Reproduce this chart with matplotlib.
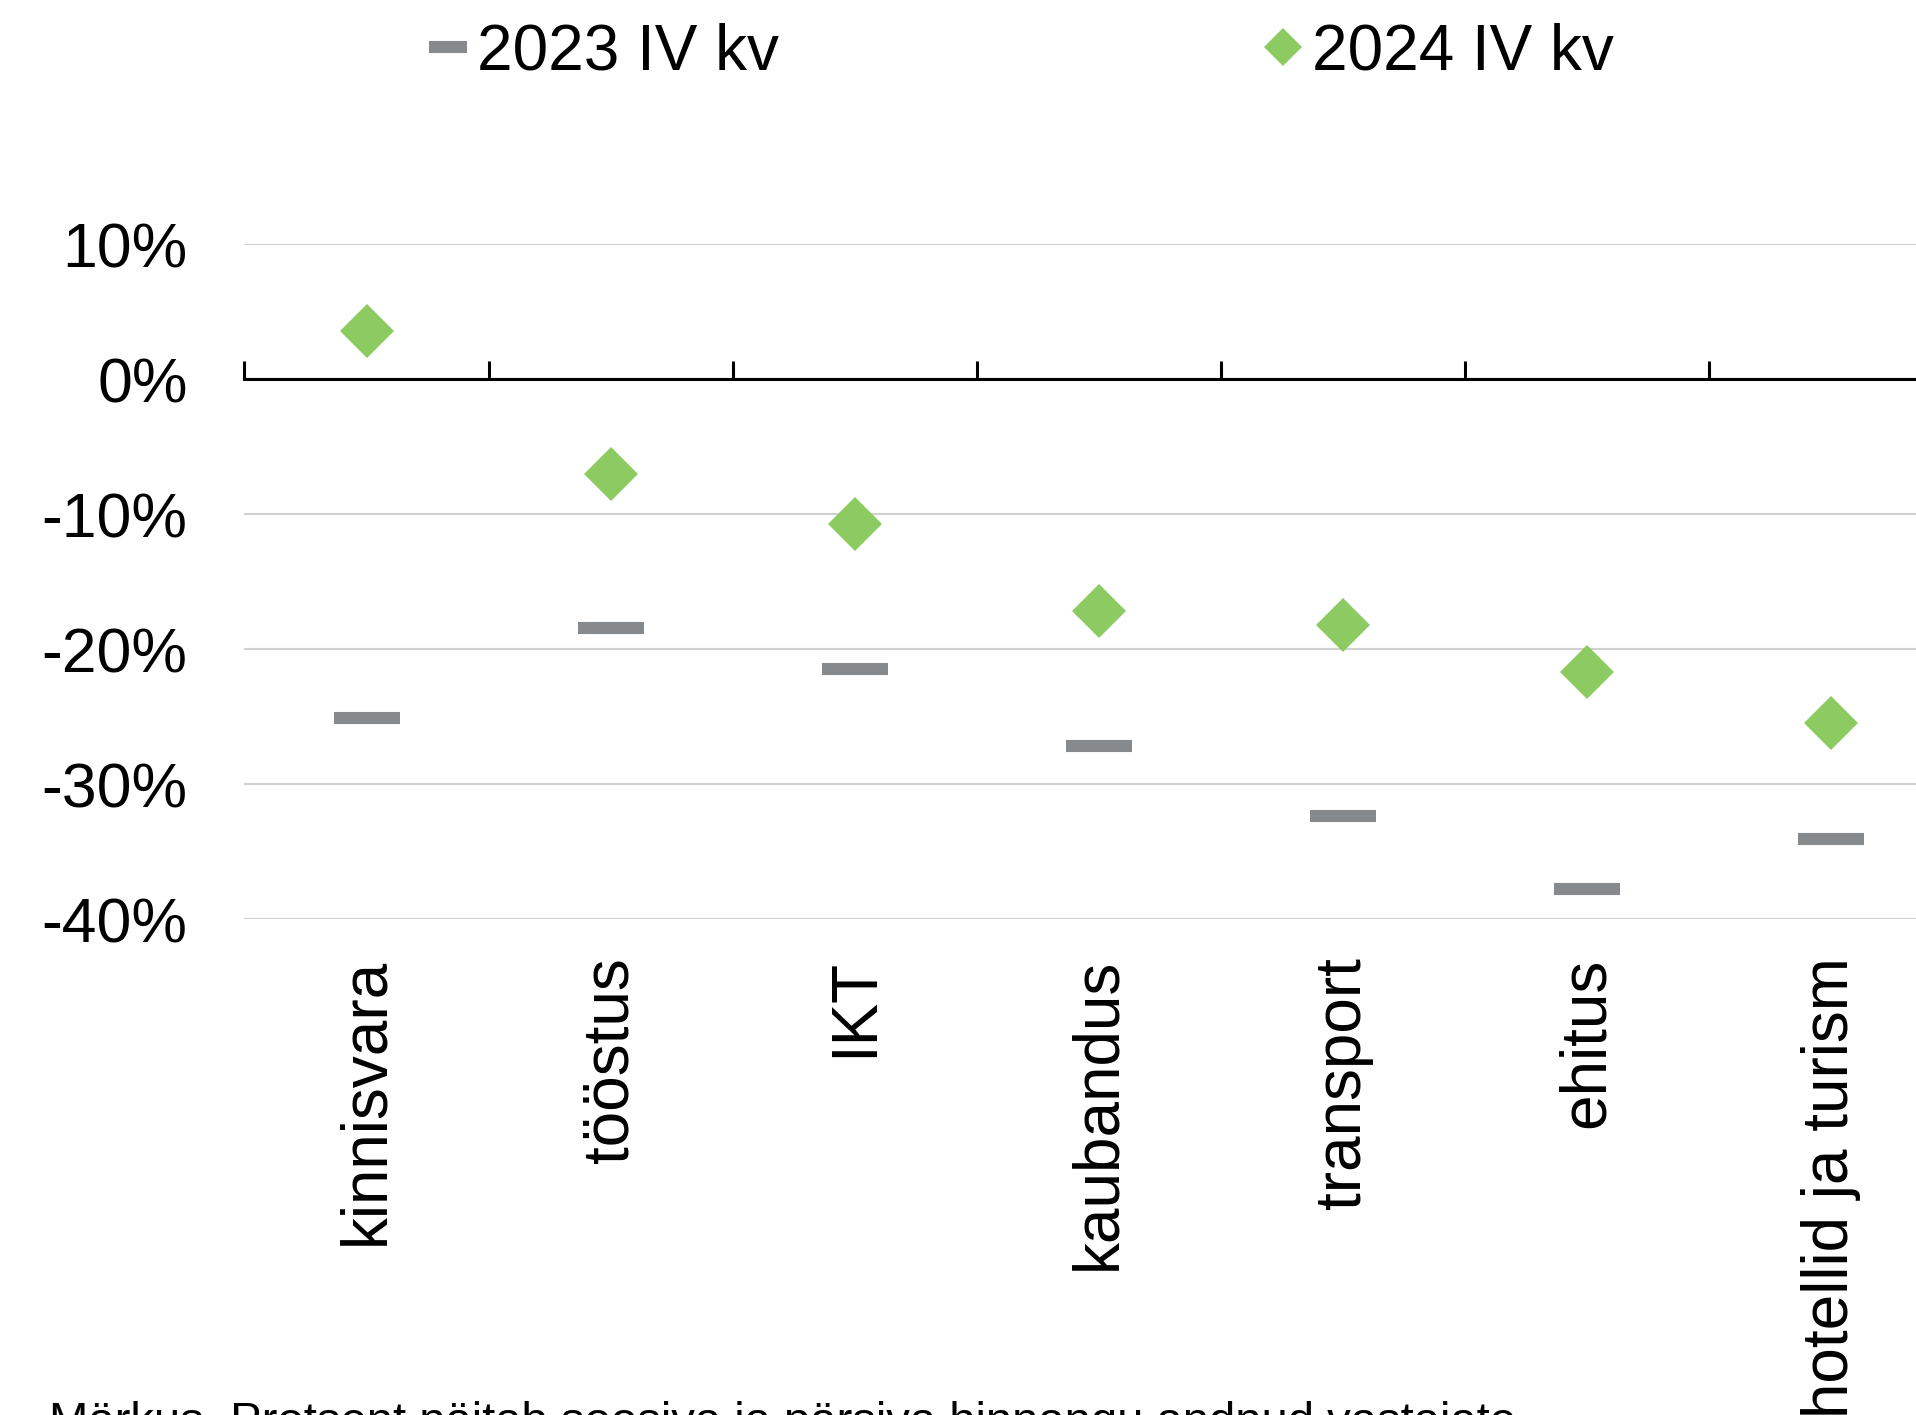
import matplotlib.pyplot as plt
import matplotlib.transforms as mtransforms
from matplotlib.lines import Line2D
from matplotlib.ticker import FixedLocator, FuncFormatter

plt.rcParams['font.family'] = ['Liberation Sans', 'DejaVu Sans']

sektorid = ['kinnisvara', 'tööstus', 'IKT', 'kaubandus', 'transport', 'ehitus', 'hotellid ja turism']
kv_2023 = [-25.1, -18.4, -21.5, -27.2, -32.4, -37.8, -34.1]
kv_2024 = [3.6, -7.0, -10.7, -17.2, -18.2, -21.7, -25.5]
y_ticks = [10, 0, -10, -20, -30, -40]
nimi_2023 = '2023 IV kv'
nimi_2024 = '2024 IV kv'
markus = 'Märkus. Protsent näitab soosiva ja pärsiva hinnangu andnud vastajate'

hall = '#878a8d'
roheline = '#8ccb61'

fig = plt.figure(figsize=(19.16, 14.15), dpi=100)
ax = fig.add_axes([0.1276, 0.3505, 0.8917, 0.4768])

x = list(range(len(sektorid)))
ax.plot(x, kv_2023, linestyle='none', marker='_', markersize=47, markeredgewidth=8.7,
        color=hall, zorder=3)
ax.plot(x, kv_2024, linestyle='none', marker='D', markersize=28, color=roheline,
        markeredgewidth=0, zorder=4)

ax.set_xlim(-0.5, len(sektorid) - 0.5)
ax.set_ylim(-40, 10)
ax.yaxis.set_major_locator(FixedLocator(y_ticks))
ax.yaxis.set_major_formatter(FuncFormatter(lambda v, p: '%d%%' % round(v)))
ax.tick_params(axis='y', length=0, pad=41, labelsize=45)
ax.grid(axis='y', color='#d0d0d0', linewidth=1.5, zorder=0)

# kategooria piirid x-teljel (nullijoon)
ax.xaxis.set_major_locator(FixedLocator([i - 0.5 for i in range(len(sektorid) + 1)]))
ax.xaxis.set_major_formatter(FuncFormatter(lambda v, p: ''))
ax.tick_params(axis='x', direction='in', length=13, width=2.2, color='black')
for s in ['left', 'right', 'top']:
    ax.spines[s].set_visible(False)
ax.spines['bottom'].set_position(('data', 0))
ax.spines['bottom'].set_linewidth(2.2)
ax.spines['bottom'].set_zorder(2)

trans = mtransforms.blended_transform_factory(ax.transData, ax.transAxes)
for i, nimi in enumerate(sektorid):
    ax.text(i, -0.057, nimi, transform=trans, rotation=90, ha='center', va='top',
            fontsize=46)

kaepidemed = [
    Line2D([], [], linestyle='none', marker='_', markersize=27, markeredgewidth=8.7, color=hall),
    Line2D([], [], linestyle='none', marker='D', markersize=19, markeredgewidth=0, color=roheline),
]
fig.legend(kaepidemed, [nimi_2023, nimi_2024], loc='center', bbox_to_anchor=(0.533, 0.963),
           ncol=2, frameon=False, fontsize=46, handlelength=0.6, handletextpad=0.15,
           columnspacing=7.6)

fig.text(0.0256, 0.0098, markus, ha='left', va='top', fontsize=34)

fig.savefig('out.png', dpi=100)
